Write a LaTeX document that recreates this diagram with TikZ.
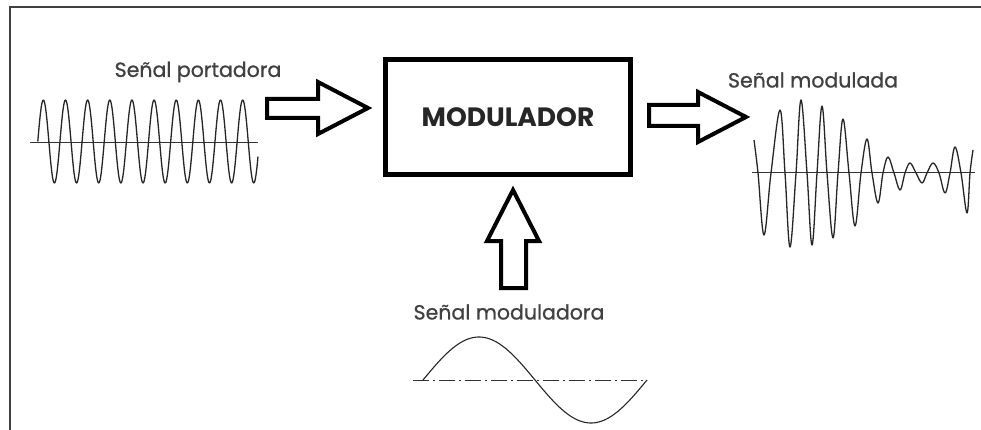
\documentclass[tikz,border=0pt]{standalone}
\usepackage{fontspec}
\setmainfont{Poppins}
\newfontfamily\lblfont[FakeBold=0.8]{Poppins}
\begin{document}
\begin{tikzpicture}[x=1pt,y=-1pt,
  lbl/.style={font=\lblfont\fontsize{20.5}{24}\selectfont, text=black!75, inner sep=0pt},
  blockarrow/.style={line width=4pt, line join=miter, black},
  wave/.style={line width=1.3pt, black!85, line join=round},
  axisline/.style={line width=1pt, black!80}]
\useasboundingbox (0,0) rectangle (981,430);
\fill[white] (0,0) rectangle (981,430);
% frame
\draw[line width=2pt, black!75] (9.5,430) -- (9.5,7.5) -- (981,7.5);
% modulator box
\node[draw, line width=5pt, minimum width=245pt, minimum height=115pt, inner sep=0pt,
      font=\fontsize{26.5}{30}\selectfont\bfseries, text=black!85] (mod) at (508,117) {MODULADOR};
% labels
\node[lbl] (lport) at (198,72) {Señal portadora};
\node[lbl] (lmodd) at (813,80) {Señal modulada};
\node[lbl] (lmodr) at (509,312) {Señal moduladora};
% block arrows
\draw[blockarrow] (267,99) -- (318,99) -- (318,82) -- (368,108) -- (318,134) -- (318,118) -- (267,118) -- cycle;
\draw[blockarrow] (649,105) -- (698,105) -- (698,92) -- (746,117) -- (698,142) -- (698,126) -- (649,126) -- cycle;
\draw[blockarrow] (513,190) -- (539,241) -- (526,241) -- (526,288) -- (501,288) -- (501,241) -- (487,241) -- cycle;
% carrier wave
\draw[axisline] (30,143) -- (258,143);
\draw[wave] plot[domain=37.8:258, samples=400] (\x, {141.5 - 41.5*sin(16.2528*(\x-37.8))});
% modulating wave
\draw[axisline, line width=0.9pt, dash pattern=on 16pt off 4pt on 2pt off 4pt] (413,380) -- (647,380);
\draw[wave, line width=1.1pt] plot[domain=423:647, samples=200] (\x, {380 - 43*sin(1.60714*(\x-423))});
% modulated wave
\draw[axisline] (752,173) -- (975,173);
\draw[wave] plot[smooth, tension=0.6] coordinates {
 (754,140) (758,173) (764,235) (771,173) (780,110) (785,173) (790,247) (796,173)
 (801,100) (807,173) (812,245) (817,173) (822,106) (827,173) (833,238) (838,173)
 (843,119) (849,173) (855,226) (861,173) (867,139) (872,173) (878,203) (883,173)
 (888,157) (894,173) (900,190) (905,173) (910,163) (916,173) (922,183) (927,173)
 (933,163) (939,173) (945,193) (950,173) (955,147) (961,173) (967,213) (970,173) (973,150)};
\end{tikzpicture}
\end{document}
